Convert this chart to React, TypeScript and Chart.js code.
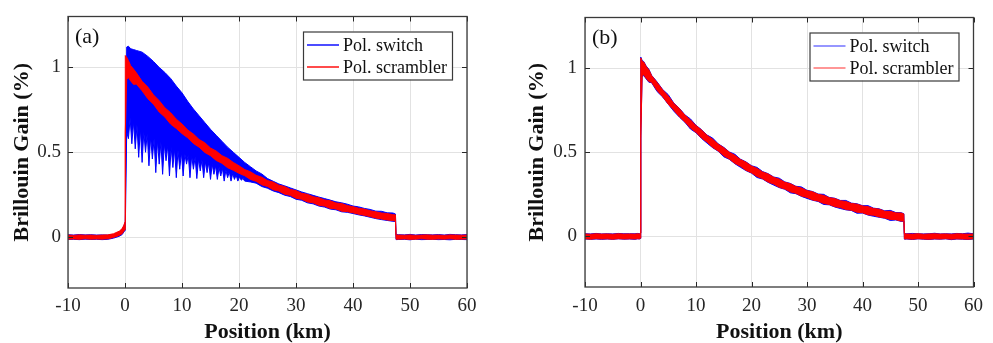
import React, { useEffect, useRef } from "react";
import { Chart, registerables } from "chart.js";

Chart.register(...registerables);

const FONT = '"Liberation Serif", "Times New Roman", serif';
const INK = "#262626";
const BLUE = "#0000ff";
const RED = "#ff0000";

// ---- axes / labels ----
const xTicks = [-10, 0, 10, 20, 30, 40, 50, 60];
const xTickLabels = ["-10", "0", "10", "20", "30", "40", "50", "60"];
const yTicks = [0, 0.5, 1];
const yTickLabels = ["0", "0.5", "1"];
const xTitle = "Position (km)";
const yTitle = "Brillouin Gain (%)";
const seriesLabels = ["Pol. switch", "Pol. scrambler"];
const panelLabels = ["(a)", "(b)"];

// ---- common position grid (km) ----
const positionKm = [
  -10, -9, -8, -7, -6, -5, -4, -3,
  -2, -1, -0.5, -0.2, 0,
  0.05, 0.3, 0.6, 1, 1.5,
  2, 3, 4, 5, 6, 7, 8, 9, 10, 11,
  12, 13, 14, 15, 16, 17, 18, 19, 20, 21,
  22, 23, 24, 25, 26, 27, 28, 29, 30, 31,
  32, 33, 34, 35, 36, 37, 38, 39, 40, 41,
  42, 43, 44, 45, 46, 47,
  47.45, 47.55,
  48, 49, 50, 51, 52, 53, 54, 55, 56, 57, 58, 59, 60,
];

// ---- panel (a): Pol. scrambler envelope (upper / lower), %
const scramblerHiA = [
  0.012, 0.010, 0.013, 0.011, 0.012, 0.010, 0.012, 0.013,
  0.020, 0.035, 0.050, 0.070, 0.090,
  1.070, 1.060, 1.040, 1.010, 0.990,
  0.968, 0.918, 0.884, 0.838, 0.804, 0.762, 0.733, 0.695, 0.666, 0.631,
  0.607, 0.575, 0.556, 0.525, 0.507, 0.480, 0.464, 0.440, 0.420, 0.398,
  0.385, 0.364, 0.353, 0.333, 0.324, 0.306, 0.298, 0.281, 0.274, 0.258,
  0.252, 0.238, 0.232, 0.219, 0.214, 0.201, 0.198, 0.186, 0.179, 0.170,
  0.165, 0.155, 0.149, 0.142, 0.139, 0.132,
  0.131, 0.012,
  0.012, 0.011, 0.013, 0.010, 0.012, 0.013, 0.011, 0.012, 0.010, 0.013, 0.012, 0.011, 0.012,
];
const scramblerLoA = [
  -0.012, -0.011, -0.013, -0.010, -0.012, -0.011, -0.012, -0.010,
  -0.002, 0.010, 0.020, 0.035, 0.045,
  0.620, 0.930, 0.940, 0.920, 0.900,
  0.902, 0.862, 0.816, 0.783, 0.737, 0.707, 0.666, 0.640, 0.610, 0.585,
  0.552, 0.530, 0.499, 0.480, 0.452, 0.435, 0.409, 0.394, 0.376, 0.362,
  0.340, 0.329, 0.308, 0.298, 0.279, 0.271, 0.253, 0.246, 0.229, 0.223,
  0.207, 0.202, 0.187, 0.183, 0.169, 0.166, 0.153, 0.150, 0.143, 0.135,
  0.128, 0.121, 0.112, 0.107, 0.101, 0.097,
  0.095, -0.012,
  -0.012, -0.011, -0.013, -0.012, -0.010, -0.012, -0.013, -0.011, -0.012, -0.010, -0.013, -0.012, -0.011,
];

// ---- panel (a): Pol. switch envelope
const switchHiA = [
  0.014, 0.012, 0.015, 0.013, 0.014, 0.012, 0.013, 0.012,
  0.015, 0.030, 0.045, 0.065, 0.085,
  0.090, 1.120, 1.125, 1.110, 1.105,
  1.100, 1.090, 1.065, 1.035, 1.000, 0.970, 0.935, 0.890, 0.850, 0.800,
  0.755, 0.715, 0.675, 0.635, 0.600, 0.565, 0.530, 0.500, 0.470, 0.440,
  0.415, 0.390, 0.372, 0.345, 0.329, 0.313, 0.302, 0.290, 0.278, 0.266,
  0.256, 0.246, 0.236, 0.227, 0.218, 0.208, 0.202, 0.194, 0.183, 0.178,
  0.169, 0.163, 0.153, 0.152, 0.143, 0.142,
  0.136, 0.015,
  0.014, 0.013, 0.016, 0.012, 0.015, 0.014, 0.013, 0.015, 0.012, 0.016, 0.014, 0.013, 0.015,
];
// lower envelope of Pol. switch has its own, denser sampling (deep dips 0-21 km)
const switchLoKmA = [
  -10, -9, -8, -7, -6, -5, -4, -3, -2, -1, -0.5, -0.2, 0, 0.05,
  0.3, 0.6, 0.9, 1.2, 1.5, 1.8, 2.1, 2.4, 2.7, 3.0,
  3.3, 3.6, 3.9, 4.2, 4.5, 4.8, 5.1, 5.4, 5.7, 6.0,
  6.3, 6.6, 6.9, 7.2, 7.5, 7.8, 8.1, 8.4, 8.7, 9.0,
  9.3, 9.6, 9.9, 10.2, 10.5, 10.8, 11.1, 11.4, 11.7, 12.0,
  12.3, 12.6, 12.9, 13.2, 13.5, 13.8, 14.1, 14.4, 14.7, 15.0,
  15.3, 15.6, 15.9, 16.2, 16.5, 16.8, 17.1, 17.4, 17.7, 18.0,
  18.3, 18.6, 18.9, 19.2, 19.5, 19.8, 20.1, 20.4, 20.7, 21.0,
  22, 23, 24, 25, 26, 27, 28, 29, 30, 31, 32, 33, 34,
  35, 36, 37, 38, 39, 40, 41, 42, 43, 44, 45, 46, 47,
  47.45, 47.55,
  48, 49, 50, 51, 52, 53, 54, 55, 56, 57, 58, 59, 60,
];
const switchLoA = [
  -0.014, -0.013, -0.015, -0.012, -0.014, -0.013, -0.015, -0.013, -0.006, 0.005, 0.015, 0.030, 0.040, 0.050,
  0.62, 0.58, 0.70, 0.55, 0.68, 0.52, 0.66, 0.47, 0.64, 0.44,
  0.62, 0.50, 0.61, 0.42, 0.59, 0.46, 0.58, 0.38, 0.57, 0.43,
  0.56, 0.37, 0.55, 0.45, 0.54, 0.36, 0.53, 0.41, 0.52, 0.35,
  0.51, 0.40, 0.50, 0.36, 0.49, 0.43, 0.485, 0.35, 0.48, 0.40,
  0.47, 0.345, 0.46, 0.39, 0.455, 0.35, 0.445, 0.38, 0.44, 0.34,
  0.43, 0.37, 0.42, 0.34, 0.41, 0.36, 0.405, 0.33, 0.395, 0.35,
  0.385, 0.33, 0.375, 0.34, 0.365, 0.33, 0.355, 0.335, 0.345, 0.33,
  0.325, 0.318, 0.298, 0.288, 0.272, 0.262, 0.247, 0.239, 0.223, 0.217, 0.202, 0.196, 0.183,
  0.177, 0.165, 0.161, 0.149, 0.146, 0.139, 0.131, 0.125, 0.117, 0.109, 0.103, 0.098, 0.093,
  0.092, -0.015,
  -0.014, -0.013, -0.016, -0.012, -0.015, -0.014, -0.013, -0.015, -0.014, -0.016, -0.013, -0.014, -0.015,
];

// ---- panel (b): Pol. scrambler envelope
const scramblerHiB = [
  0.015, 0.013, 0.016, 0.014, 0.015, 0.013, 0.016, 0.014,
  0.015, 0.014, 0.016, 0.015, 0.020,
  1.060, 1.040, 1.035, 1.010, 0.990,
  0.955, 0.914, 0.870, 0.834, 0.790, 0.759, 0.720, 0.692, 0.658, 0.632,
  0.600, 0.577, 0.548, 0.527, 0.500, 0.482, 0.457, 0.441, 0.418, 0.404,
  0.383, 0.371, 0.351, 0.340, 0.322, 0.313, 0.296, 0.288, 0.272, 0.265,
  0.250, 0.244, 0.230, 0.225, 0.212, 0.208, 0.196, 0.192, 0.181, 0.177,
  0.166, 0.162, 0.150, 0.149, 0.140, 0.139,
  0.133, 0.016,
  0.015, 0.014, 0.016, 0.013, 0.015, 0.016, 0.014, 0.015, 0.013, 0.016, 0.015, 0.014, 0.015,
];
const scramblerLoB = [
  -0.014, -0.016, -0.013, -0.015, -0.014, -0.016, -0.013, -0.015,
  -0.014, -0.015, -0.013, -0.014, -0.010,
  0.580, 0.955, 0.960, 0.940, 0.920,
  0.915, 0.866, 0.830, 0.786, 0.750, 0.711, 0.680, 0.644, 0.618, 0.584,
  0.560, 0.529, 0.508, 0.479, 0.460, 0.434, 0.417, 0.393, 0.378, 0.356,
  0.343, 0.323, 0.311, 0.292, 0.282, 0.265, 0.256, 0.240, 0.232, 0.217,
  0.210, 0.196, 0.190, 0.177, 0.172, 0.160, 0.156, 0.144, 0.141, 0.129,
  0.126, 0.116, 0.110, 0.101, 0.100, 0.091,
  0.093, -0.015,
  -0.014, -0.016, -0.013, -0.015, -0.016, -0.014, -0.015, -0.013, -0.016, -0.014, -0.015, -0.016, -0.014,
];

// ---- panel (b): Pol. switch envelope (almost hidden under the scrambler trace)
const switchHiB = [
  0.016, 0.015, 0.018, 0.015, 0.016, 0.015, 0.018, 0.016,
  0.016, 0.016, 0.018, 0.016, 0.021,
  1.065, 1.045, 1.038, 1.013, 0.993,
  0.957, 0.917, 0.872, 0.842, 0.792, 0.761, 0.722, 0.698, 0.660, 0.634,
  0.602, 0.584, 0.550, 0.529, 0.502, 0.488, 0.459, 0.443, 0.420, 0.410,
  0.385, 0.373, 0.353, 0.346, 0.324, 0.315, 0.298, 0.294, 0.274, 0.267,
  0.252, 0.250, 0.232, 0.227, 0.214, 0.214, 0.198, 0.194, 0.183, 0.183,
  0.168, 0.164, 0.152, 0.155, 0.142, 0.141,
  0.135, 0.017,
  0.016, 0.018, 0.016, 0.015, 0.016, 0.019, 0.015, 0.016, 0.015, 0.018, 0.016, 0.020, 0.016,
];
const switchLoB = [
  -0.015, -0.017, -0.015, -0.017, -0.015, -0.017, -0.014, -0.016,
  -0.015, -0.017, -0.014, -0.015, -0.012,
  0.600, 0.950, 0.955, 0.936, 0.916,
  0.913, 0.860, 0.828, 0.785, 0.744, 0.709, 0.678, 0.638, 0.616, 0.582,
  0.554, 0.527, 0.506, 0.473, 0.458, 0.432, 0.411, 0.391, 0.376, 0.350,
  0.341, 0.321, 0.305, 0.290, 0.280, 0.259, 0.254, 0.238, 0.226, 0.215,
  0.208, 0.190, 0.188, 0.175, 0.166, 0.158, 0.154, 0.138, 0.139, 0.127,
  0.120, 0.114, 0.108, 0.095, 0.098, 0.089,
  0.091, -0.016,
  -0.015, -0.018, -0.014, -0.016, -0.018, -0.015, -0.016, -0.014, -0.019, -0.015, -0.016, -0.018, -0.015,
];

type PanelCfg = {
  label: string;
  canvasLeft: number;
  canvasWidth: number;
  padTop: number;
  padRight: number;
  xAxisHeight: number;
  yAxisWidth: number;
  yTickPad: number;
  xTickPad: number;
  yTitlePad: number;
  switchHi: number[];
  switchLoKm: number[];
  switchLo: number[];
  scramblerHi: number[];
  scramblerLo: number[];
  legendColors: string[];
};

const panels: PanelCfg[] = [
  {
    label: panelLabels[0], canvasLeft: 0, canvasWidth: 496, padTop: 10, padRight: 29,
    xAxisHeight: 55, yAxisWidth: 68, yTickPad: 7, xTickPad: 9, yTitlePad: 11,
    switchHi: switchHiA, switchLoKm: switchLoKmA, switchLo: switchLoA,
    scramblerHi: scramblerHiA, scramblerLo: scramblerLoA,
    legendColors: ["#1f1fff", "#ff1f1f"],
  },
  {
    label: panelLabels[1], canvasLeft: 496, canvasWidth: 497, padTop: 12, padRight: 10,
    xAxisHeight: 56, yAxisWidth: 89, yTickPad: 8, xTickPad: 10, yTitlePad: 30,
    switchHi: switchHiB, switchLoKm: positionKm, switchLo: switchLoB,
    scramblerHi: scramblerHiB, scramblerLo: scramblerLoB,
    legendColors: ["rgba(40,40,255,0.65)", "rgba(255,40,40,0.65)"],
  },
];

const toPts = (xs: number[], ys: number[]) => xs.map((x, i) => ({ x, y: ys[i] }));

const framePlugin = {
  id: "frame",
  afterDatasetsDraw(chart: any, _args: any, opts: any) {
    const { ctx, chartArea, scales } = chart;
    const { left, right, top, bottom } = chartArea;
    const xs = scales.x;
    const ys = scales.y;
    ctx.save();
    // inward tick marks on all four sides
    ctx.strokeStyle = INK;
    ctx.lineWidth = 1;
    ctx.beginPath();
    xTicks.forEach((v) => {
      const px = Math.round(xs.getPixelForValue(v)) + 0.5;
      ctx.moveTo(px, bottom);
      ctx.lineTo(px, bottom - 5);
      ctx.moveTo(px, top);
      ctx.lineTo(px, top + 5);
    });
    yTicks.forEach((v) => {
      const py = Math.round(ys.getPixelForValue(v)) + 0.5;
      ctx.moveTo(left, py);
      ctx.lineTo(left + 5, py);
      ctx.moveTo(right, py);
      ctx.lineTo(right - 5, py);
    });
    ctx.stroke();
    // axes box
    ctx.strokeStyle = "#3a3a3a";
    ctx.lineWidth = 1.3;
    ctx.strokeRect(left, top, right - left, bottom - top);

    // panel label
    ctx.fillStyle = "#111";
    ctx.font = `22px ${FONT}`;
    ctx.textAlign = "left";
    ctx.textBaseline = "alphabetic";
    ctx.fillText(opts.label, left + 7, top + 26);

    // legend
    ctx.font = `18px ${FONT}`;
    const items = [
      { text: seriesLabels[0], color: opts.colors[0] },
      { text: seriesLabels[1], color: opts.colors[1] },
    ];
    const textW = Math.max(...items.map((it) => ctx.measureText(it.text).width));
    const padL = 4, lineLen = 32, gap = 4, padR = 5;
    const boxW = Math.round(padL + lineLen + gap + textW + padR);
    const boxH = 48;
    const bx = right - 15 - boxW;
    const by = top + 15;
    ctx.fillStyle = "#ffffff";
    ctx.fillRect(bx, by, boxW, boxH);
    ctx.strokeStyle = "#3a3a3a";
    ctx.lineWidth = 1.2;
    ctx.strokeRect(bx + 0.5, by + 0.5, boxW, boxH);
    items.forEach((it, i) => {
      const cy = by + 14.5 + i * 22;
      ctx.strokeStyle = it.color;
      ctx.lineWidth = 1.6;
      ctx.beginPath();
      ctx.moveTo(bx + padL, cy - 1);
      ctx.lineTo(bx + padL + lineLen, cy - 1);
      ctx.stroke();
      ctx.fillStyle = "#111";
      ctx.textBaseline = "middle";
      ctx.fillText(it.text, bx + padL + lineLen + gap, cy);
    });
    ctx.restore();
  },
};

function buildConfig(cfg: PanelCfg): any {
  const line = (color: string) => ({
    borderColor: color,
    backgroundColor: color,
    borderWidth: 1,
    pointRadius: 0,
    pointHoverRadius: 0,
    tension: 0,
  });
  return {
    type: "line",
    data: {
      datasets: [
        { label: seriesLabels[1], data: toPts(positionKm, cfg.scramblerHi), ...line(RED), fill: false },
        { label: seriesLabels[1] + " lower", data: toPts(positionKm, cfg.scramblerLo), ...line(RED), fill: "-1" },
        { label: seriesLabels[0], data: toPts(positionKm, cfg.switchHi), ...line(BLUE), fill: false },
        { label: seriesLabels[0] + " lower", data: toPts(cfg.switchLoKm, cfg.switchLo), ...line(BLUE), fill: "-1" },
      ],
    },
    options: {
      responsive: false,
      animation: false,
      devicePixelRatio: 1,
      events: [],
      layout: { padding: { left: 0, right: cfg.padRight, top: cfg.padTop, bottom: 0 } },
      plugins: {
        legend: { display: false },
        tooltip: { enabled: false },
        frame: { label: cfg.label, colors: cfg.legendColors },
      },
      scales: {
        x: {
          type: "linear",
          min: -10,
          max: 60,
          afterBuildTicks: (s: any) => {
            s.ticks = xTicks.map((v) => ({ value: v }));
          },
          afterFit: (s: any) => {
            s.height = cfg.xAxisHeight;
          },
          grid: { color: "#e2e2e2", lineWidth: 1, drawTicks: false },
          border: { display: false },
          ticks: {
            autoSkip: false,
            maxRotation: 0,
            padding: cfg.xTickPad,
            color: INK,
            font: { family: FONT, size: 19, lineHeight: 1 },
            callback: (v: number) => xTickLabels[xTicks.indexOf(v)],
          },
          title: {
            display: true,
            text: xTitle,
            color: "#111",
            padding: { top: 0, bottom: 0 },
            font: { family: FONT, size: 22, weight: "bold", lineHeight: 1 },
          },
        },
        y: {
          type: "linear",
          min: -0.3,
          max: 1.3,
          afterBuildTicks: (s: any) => {
            s.ticks = yTicks.map((v) => ({ value: v }));
          },
          afterFit: (s: any) => {
            s.width = cfg.yAxisWidth;
          },
          grid: { color: "#e2e2e2", lineWidth: 1, drawTicks: false },
          border: { display: false },
          ticks: {
            padding: cfg.yTickPad,
            color: INK,
            font: { family: FONT, size: 19, lineHeight: 1 },
            callback: (v: number) => yTickLabels[yTicks.indexOf(v)],
          },
          title: {
            display: true,
            text: yTitle,
            color: "#111",
            padding: { top: cfg.yTitlePad, bottom: 0 },
            font: { family: FONT, size: 22, weight: "bold", lineHeight: 1 },
          },
        },
      },
    },
    plugins: [framePlugin],
  };
}

function ChartPanel({ cfg }: { cfg: PanelCfg }) {
  const ref = useRef<HTMLCanvasElement>(null);
  useEffect(() => {
    if (!ref.current) return;
    const chart = new Chart(ref.current, buildConfig(cfg));
    return () => chart.destroy();
  }, [cfg]);
  return (
    <canvas
      ref={ref}
      width={cfg.canvasWidth}
      height={343}
      style={{ position: "absolute", left: cfg.canvasLeft, top: 0 }}
    />
  );
}

export default function App() {
  return (
    <div
      style={{
        position: "absolute",
        left: 0,
        top: 0,
        width: 993,
        height: 343,
        background: "#ffffff",
        overflow: "hidden",
      }}
    >
      {panels.map((p) => (
        <ChartPanel key={p.label} cfg={p} />
      ))}
    </div>
  );
}
